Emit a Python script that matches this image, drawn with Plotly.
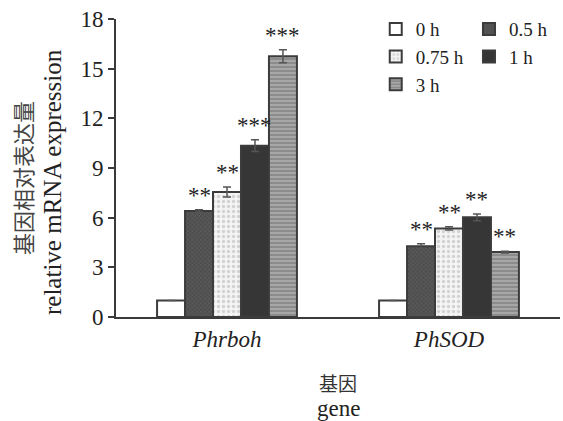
import plotly.graph_objects as go

genes = ["Phrboh", "PhSOD"]
gene_labels = ["<i>Phrboh</i>", "<i>PhSOD</i>"]
times = ["0 h", "0.5 h", "0.75 h", "1 h", "3 h"]
values = {
    "0 h": [1.0, 1.0],
    "0.5 h": [6.4, 4.28],
    "0.75 h": [7.55, 5.35],
    "1 h": [10.35, 6.02],
    "3 h": [15.75, 3.92],
}
errors = {
    "0 h": [0.0, 0.0],
    "0.5 h": [0.08, 0.15],
    "0.75 h": [0.3, 0.1],
    "1 h": [0.35, 0.2],
    "3 h": [0.4, 0.05],
}
stars = {
    "0 h": ["", ""],
    "0.5 h": ["**", "**"],
    "0.75 h": ["**", "**"],
    "1 h": ["***", "**"],
    "3 h": ["***", "**"],
}
y_ticks = [0, 3, 6, 9, 12, 15, 18]
y_title_cn = "基因相对表达量"
y_title_en = "relative mRNA expression"
x_title_cn = "基因"
x_title_en = "gene"

styles = {
    "0 h": dict(color="white", pattern=None),
    "0.5 h": dict(color="#5a5a5a", pattern=dict(shape="x", fgcolor="#7a7a7a", bgcolor="#4e4e4e", size=3, solidity=0.3)),
    "0.75 h": dict(color="#f2f2f2", pattern=dict(shape=".", fgcolor="#b0b0b0", bgcolor="#f4f4f4", size=5, solidity=0.35)),
    "1 h": dict(color="#363636", pattern=None),
    "3 h": dict(color="#9a9a9a", pattern=dict(shape="-", fgcolor="#e6e6e6", bgcolor="#8c8c8c", size=4, solidity=0.3)),
}
legend_of = {"0 h": "legend", "0.75 h": "legend", "3 h": "legend", "0.5 h": "legend2", "1 h": "legend2"}

SERIF = "Liberation Serif, Noto Sans CJK SC"
CJK = "Noto Sans CJK SC"
BARGAP = 0.37

fig = go.Figure()
for t in times:
    st = styles[t]
    marker = dict(color=st["color"], line=dict(color="#3c3c3c", width=2))
    if st["pattern"]:
        marker["pattern"] = st["pattern"]
    fig.add_trace(go.Bar(
        name=t, x=[0, 1], y=values[t],
        marker=marker,
        error_y=dict(type="data", array=errors[t], visible=True, color="#555555", thickness=1.5, width=4),
        legend=legend_of[t],
    ))

# significance stars above each bar (positions derived from group-bar layout)
n = len(times)
w = (1 - BARGAP) / n
for i, t in enumerate(times):
    off = -0.5 * (1 - BARGAP) + (i + 0.5) * w
    for gi in range(len(genes)):
        s = stars[t][gi]
        if not s:
            continue
        fig.add_annotation(
            x=gi + off, y=values[t][gi] + errors[t][gi], xref="x", yref="y",
            text=s, showarrow=False, yanchor="bottom", yshift=0,
            font=dict(family=SERIF, size=23, color="#222222"),
        )

# axis titles
fig.add_annotation(x=0, y=0.5, xref="paper", yref="paper", xanchor="center", yanchor="middle",
                   xshift=-94, yshift=-10,
                   text=y_title_cn, textangle=-90, showarrow=False,
                   font=dict(family=CJK, size=22, color="#444444"))
fig.add_annotation(x=0, y=0.5, xref="paper", yref="paper", xanchor="center", yanchor="middle",
                   xshift=-64, yshift=-14,
                   text=y_title_en, textangle=-90, showarrow=False,
                   font=dict(family=SERIF, size=25, color="#222222"))
fig.add_annotation(x=0.5, y=0, xref="paper", yref="paper", xanchor="center", yanchor="middle",
                   yshift=-65,
                   text=x_title_cn, showarrow=False,
                   font=dict(family=CJK, size=19, color="#333333"))
fig.add_annotation(x=0.5, y=0, xref="paper", yref="paper", xanchor="center", yanchor="middle",
                   yshift=-91,
                   text=x_title_en, showarrow=False,
                   font=dict(family=SERIF, size=23, color="#222222"))

fig.update_layout(
    width=563, height=421,
    margin=dict(l=116, r=3, t=19, b=104),
    paper_bgcolor="white", plot_bgcolor="white",
    barmode="group", bargap=BARGAP, bargroupgap=0,
    font=dict(family=SERIF, color="#222222"),
    showlegend=True,
    legend=dict(x=0.585, y=1.03, xanchor="left", yanchor="top",
                font=dict(family=SERIF, size=19, color="#222222"),
                bgcolor="rgba(0,0,0,0)", tracegroupgap=0, itemwidth=30),
    legend2=dict(x=0.795, y=1.03, xanchor="left", yanchor="top",
                 font=dict(family=SERIF, size=19, color="#222222"),
                 bgcolor="rgba(0,0,0,0)", tracegroupgap=0, itemwidth=30),
    xaxis=dict(
        range=[-0.5, 1.5], tickmode="array", tickvals=[0, 1], ticktext=gene_labels,
        showline=True, linecolor="#3a3a3a", linewidth=2, ticks="",
        tickfont=dict(family=SERIF, size=23, color="#222222"),
        showgrid=False, zeroline=False,
    ),
    yaxis=dict(
        range=[0, 18], tickvals=y_ticks,
        showline=True, linecolor="#3a3a3a", linewidth=2, ticks="outside", ticklen=6, tickwidth=2, tickcolor="#3a3a3a",
        tickfont=dict(family=SERIF, size=23, color="#222222"),
        showgrid=False, zeroline=False,
    ),
)

fig.write_html("out.html")
